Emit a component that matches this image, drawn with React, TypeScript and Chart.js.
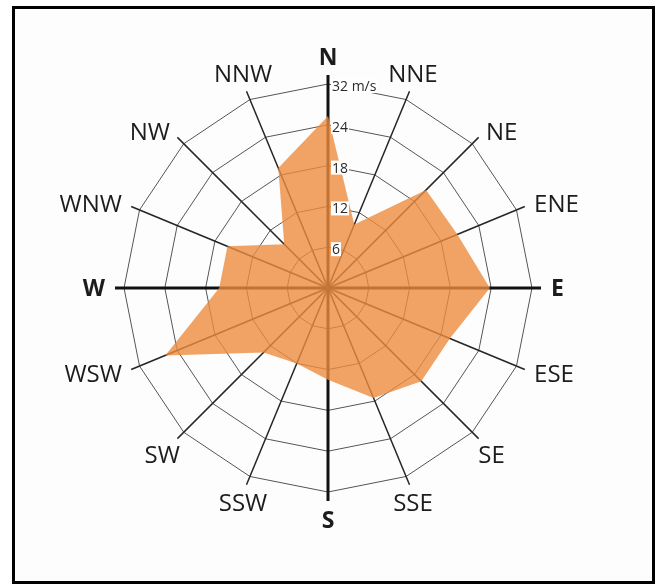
import React, { useEffect, useRef } from "react";
import { Chart, registerables } from "chart.js";

Chart.register(...registerables);

// ---- data ----
const directions = ["N", "NNE", "NE", "ENE", "E", "ESE", "SE", "SSE", "S", "SSW", "SW", "WSW", "W", "WNW", "NW", "NNW"];
const cardinals = ["N", "E", "S", "W"];
const speeds = [25.3, 10.1, 20.4, 20.6, 23.8, 19.4, 19.4, 17.5, 13.5, 12.0, 13.4, 25.9, 16.0, 16.0, 9.1, 19.1];
const tickValues = [6, 12, 18, 24, 30];
const tickLabels = ["6", "12", "18", "24", "32 m/s"];
const scaleMax = 30;
const tickStep = 6;

const FONT = "'Open Sans', 'Noto Sans', sans-serif";

const windRosePlugin = {
  id: "windRose",
  beforeDatasetsDraw(chart: any) {
    const scale = chart.scales.r;
    const ctx = chart.ctx as CanvasRenderingContext2D;
    const ext = scale.drawingArea + 9;
    ctx.save();
    directions.forEach((d, i) => {
      const p = scale.getPointPosition(i, ext);
      const card = cardinals.includes(d);
      ctx.beginPath();
      ctx.moveTo(scale.xCenter, scale.yCenter);
      ctx.lineTo(p.x, p.y);
      ctx.lineWidth = card ? 3 : 1.5;
      ctx.strokeStyle = card ? "#111" : "#252525";
      ctx.stroke();
    });
    ctx.restore();
  },
  afterDatasetsDraw(chart: any) {
    const scale = chart.scales.r;
    const ctx = chart.ctx as CanvasRenderingContext2D;
    ctx.save();
    // radial tick labels, right of the north axis
    ctx.font = `14px ${FONT}`;
    ctx.textAlign = "left";
    ctx.textBaseline = "middle";
    tickValues.forEach((v, i) => {
      const r = scale.getDistanceFromCenterForValue(v);
      const x = scale.xCenter + 3;
      const y = scale.yCenter - r + 2;
      const w = ctx.measureText(tickLabels[i]).width;
      ctx.fillStyle = "#ffffff";
      ctx.fillRect(x, y - 7, w + 2, 14);
      ctx.fillStyle = "#2a2a2a";
      ctx.fillText(tickLabels[i], x + 1, y + 1);
    });
    // direction labels
    const anchorR = scale.drawingArea + 18;
    ctx.textAlign = "center";
    ctx.textBaseline = "alphabetic";
    directions.forEach((d, i) => {
      const card = cardinals.includes(d);
      const size = card ? 23 : 24;
      ctx.font = `${card ? "bold " : ""}${size}px ${FONT}`;
      const w = ctx.measureText(d).width;
      const capH = size * 0.72;
      const u = scale.getPointPosition(i, 1);
      const ux = u.x - scale.xCenter;
      const uy = u.y - scale.yCenter;
      const a = scale.getPointPosition(i, anchorR);
      const eps = 1e-3;
      const diag = Math.abs(Math.abs(ux) - Math.abs(uy)) < eps;
      const horiz = uy < 0 ? Math.abs(ux) >= Math.abs(uy) - eps : Math.abs(ux) > Math.abs(uy) + eps;
      let cx = a.x;
      let cy = a.y;
      if (horiz) cx += Math.sign(ux) * (w / 2 + 1);
      else {
        cy += Math.sign(uy) * (capH / 2 + 1);
        if (diag) cx += Math.sign(ux) * (w / 4);
      }
      ctx.fillStyle = "#1c1c1c";
      ctx.fillText(d, cx, cy + capH / 2);
    });
    ctx.restore();
  },
};

export default function App() {
  const ref = useRef<HTMLCanvasElement>(null);
  useEffect(() => {
    const chart = new Chart(ref.current as HTMLCanvasElement, {
      type: "radar",
      data: {
        labels: directions,
        datasets: [
          {
            data: speeds,
            fill: true,
            backgroundColor: "rgba(236,140,62,0.8)",
            borderColor: "rgba(0,0,0,0)",
            borderWidth: 0,
            pointRadius: 0,
            pointHoverRadius: 0,
            tension: 0,
          },
        ],
      },
      options: {
        animation: false,
        responsive: true,
        maintainAspectRatio: false,
        layout: { padding: { left: 109, right: 120, top: 75, bottom: 89 } },
        plugins: { legend: { display: false }, tooltip: { enabled: false } },
        scales: {
          r: {
            min: 0,
            max: scaleMax,
            startAngle: 0,
            ticks: { stepSize: tickStep, display: false },
            grid: { color: "#555555", lineWidth: 1 },
            angleLines: { display: false },
            pointLabels: { display: false },
          },
        },
      },
      plugins: [windRosePlugin],
    });
    return () => chart.destroy();
  }, []);
  return (
    <div
      style={{
        position: "absolute",
        left: 12,
        top: 6,
        width: 643,
        height: 578,
        border: "3px solid #000",
        boxSizing: "border-box",
        background: "#fdfdfd",
      }}
    >
      <div style={{ position: "relative", width: 637, height: 572 }}>
        <canvas ref={ref} />
      </div>
    </div>
  );
}
